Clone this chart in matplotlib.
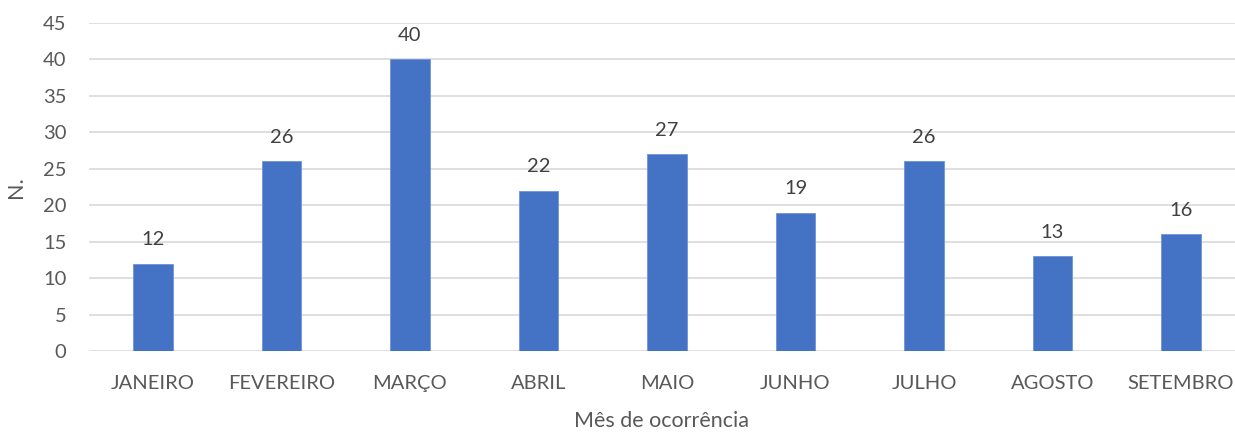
import matplotlib
matplotlib.use("Agg")
import matplotlib.pyplot as plt

months = ["JANEIRO", "FEVEREIRO", "MARÇO", "ABRIL", "MAIO", "JUNHO", "JULHO", "AGOSTO", "SETEMBRO"]
counts = [12, 26, 40, 22, 27, 19, 26, 13, 16]
yticks = [0, 5, 10, 15, 20, 25, 30, 35, 40, 45]

plt.rcParams['font.family'] = ['Lato', 'DejaVu Sans']
W, H = 1235, 433
fig = plt.figure(figsize=(W / 100, H / 100), dpi=100)
left = 88.75
right = W
ax = fig.add_axes([left / W, 82 / H, (right - left) / W, 328 / H])

x = list(range(len(months)))
ax.bar(x, counts, width=0.311, color="#4472C4", edgecolor="#6f93d6", linewidth=0.6, zorder=3)
for xi, v in zip(x, counts):
    ax.annotate(str(v), (xi, v), xytext=(0, 11), textcoords="offset points",
                ha="center", va="bottom", fontsize=14.5, color="#404040")

span = (right - left) / 128.5
ax.set_xlim(-0.5, -0.5 + span)
ax.set_ylim(0, 45)
ax.set_yticks(yticks)
ax.set_xticks(x)
ax.set_xticklabels(months)
ax.yaxis.grid(True, color="#D9D9D9", linewidth=1.2, zorder=0)
ax.set_axisbelow(True)
for s in ax.spines.values():
    s.set_visible(False)
ax.tick_params(axis="both", length=0, labelsize=14.5, labelcolor="#595959")
ax.tick_params(axis="x", pad=17)
ax.tick_params(axis="y", pad=16)
ax.set_xlabel("Mês de ocorrência", fontsize=15.5, color="#595959", labelpad=14)
ax.set_ylabel("N.", fontsize=15.5, color="#595959", labelpad=12)

fig.savefig("out.png", dpi=100)
